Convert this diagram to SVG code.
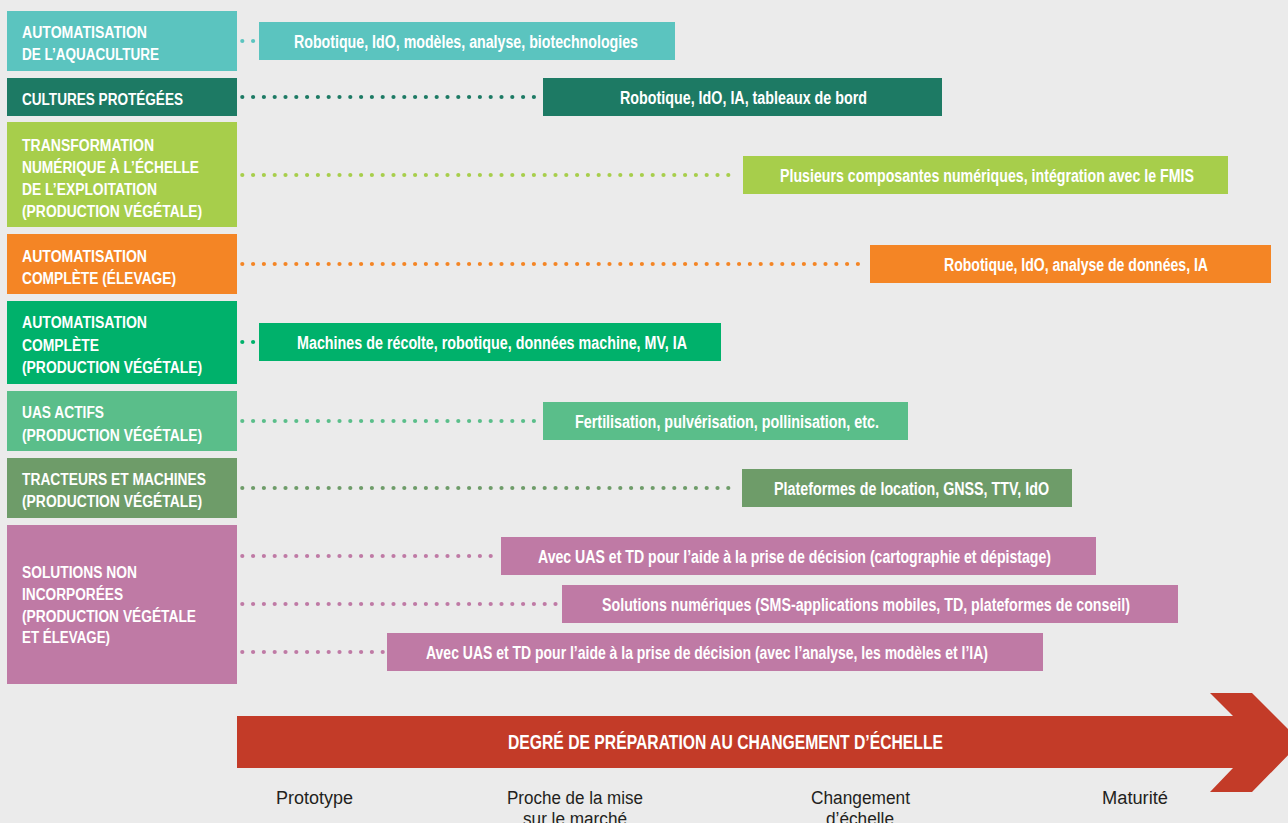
<svg xmlns="http://www.w3.org/2000/svg" width="1288" height="823" viewBox="0 0 1288 823">
<style>
.t{font-family:"Liberation Sans Narrow","Liberation Sans",Arial,sans-serif;font-weight:bold;fill:#fff;font-size:16px}
.l{font-family:"Liberation Sans Narrow","Liberation Sans",Arial,sans-serif;font-weight:bold;fill:#fff;font-size:18px}
.b{font-family:"Liberation Sans Narrow","Liberation Sans",Arial,sans-serif;fill:#231f20;font-size:18px}
.d{fill:none;stroke-width:4.2;stroke-linecap:round;stroke-dasharray:0 10.8}
.c1{fill:#5bc4bf}.s1{stroke:#5bc4bf}
.c2{fill:#1d7a64}.s2{stroke:#1d7a64}
.c3{fill:#a7ce4b}.s3{stroke:#a7ce4b}
.c4{fill:#f48525}.s4{stroke:#f48525}
.c5{fill:#00b16b}.s5{stroke:#00b16b}
.c6{fill:#5abe8a}.s6{stroke:#5abe8a}
.c7{fill:#6e9c69}.s7{stroke:#6e9c69}
.c8{fill:#bf7aa5}.s8{stroke:#bf7aa5}
</style>
<rect width="1288" height="823" fill="#ebebeb"/>

<g id="connectors">
<line class="d s1" x1="242.3" y1="41" x2="256" y2="41"/>
<line class="d s2" x1="242.3" y1="97" x2="538" y2="97"/>
<line class="d s3" x1="242.3" y1="175" x2="738" y2="175"/>
<line class="d s4" x1="242.3" y1="264" x2="866" y2="264"/>
<line class="d s5" x1="242.3" y1="342" x2="256" y2="342"/>
<line class="d s6" x1="242.3" y1="421" x2="538" y2="421"/>
<line class="d s7" x1="242.3" y1="488" x2="738" y2="488"/>
<line class="d s8" x1="242.3" y1="556" x2="497" y2="556"/>
<line class="d s8" x1="242.3" y1="604" x2="558" y2="604"/>
<line class="d s8" x1="242.3" y1="652" x2="383" y2="652"/>
</g>

<g id="cat-aquaculture">
<rect class="c1" x="7" y="11" width="230" height="60"/>
<text class="t" x="22" y="37.5" textLength="125" lengthAdjust="spacingAndGlyphs">AUTOMATISATION</text>
<text class="t" x="22" y="59.5" textLength="137" lengthAdjust="spacingAndGlyphs">DE L’AQUACULTURE</text>
</g>
<g id="lab-aquaculture">
<rect class="c1" x="259" y="22" width="416" height="38"/>
<text class="l" x="294" y="47.5" textLength="344" lengthAdjust="spacingAndGlyphs">Robotique, IdO, modèles, analyse, biotechnologies</text>
</g>

<g id="cat-cultures">
<rect class="c2" x="7" y="78" width="230" height="38"/>
<text class="t" x="22" y="105" textLength="161" lengthAdjust="spacingAndGlyphs">CULTURES PROTÉGÉES</text>
</g>
<g id="lab-cultures">
<rect class="c2" x="543" y="78" width="399" height="38"/>
<text class="l" x="620" y="103.5" textLength="247" lengthAdjust="spacingAndGlyphs">Robotique, IdO, IA, tableaux de bord</text>
</g>

<g id="cat-transformation">
<rect class="c3" x="7" y="122" width="230" height="105"/>
<text class="t" x="22" y="151" textLength="132" lengthAdjust="spacingAndGlyphs">TRANSFORMATION</text>
<text class="t" x="22" y="173" textLength="177" lengthAdjust="spacingAndGlyphs">NUMÉRIQUE À L’ÉCHELLE</text>
<text class="t" x="22" y="195" textLength="135" lengthAdjust="spacingAndGlyphs">DE L’EXPLOITATION</text>
<text class="t" x="22" y="217" textLength="180" lengthAdjust="spacingAndGlyphs">(PRODUCTION VÉGÉTALE)</text>
</g>
<g id="lab-transformation">
<rect class="c3" x="743" y="156" width="485" height="38"/>
<text class="l" x="780" y="181.5" textLength="414" lengthAdjust="spacingAndGlyphs">Plusieurs composantes numériques, intégration avec le FMIS</text>
</g>

<g id="cat-elevage">
<rect class="c4" x="7" y="234" width="230" height="60"/>
<text class="t" x="22" y="262" textLength="125" lengthAdjust="spacingAndGlyphs">AUTOMATISATION</text>
<text class="t" x="22" y="284" textLength="154" lengthAdjust="spacingAndGlyphs">COMPLÈTE (ÉLEVAGE)</text>
</g>
<g id="lab-elevage">
<rect class="c4" x="870" y="245" width="401" height="38"/>
<text class="l" x="944" y="270.5" textLength="264" lengthAdjust="spacingAndGlyphs">Robotique, IdO, analyse de données, IA</text>
</g>

<g id="cat-complete">
<rect class="c5" x="7" y="301" width="230" height="83"/>
<text class="t" x="22" y="328" textLength="125" lengthAdjust="spacingAndGlyphs">AUTOMATISATION</text>
<text class="t" x="22" y="350.5" textLength="77" lengthAdjust="spacingAndGlyphs">COMPLÈTE</text>
<text class="t" x="22" y="373" textLength="180" lengthAdjust="spacingAndGlyphs">(PRODUCTION VÉGÉTALE)</text>
</g>
<g id="lab-complete">
<rect class="c5" x="259" y="323" width="462" height="38"/>
<text class="l" x="297" y="348.5" textLength="390" lengthAdjust="spacingAndGlyphs">Machines de récolte, robotique, données machine, MV, IA</text>
</g>

<g id="cat-uas">
<rect class="c6" x="7" y="391" width="230" height="60"/>
<text class="t" x="22" y="418" textLength="82" lengthAdjust="spacingAndGlyphs">UAS ACTIFS</text>
<text class="t" x="22" y="441" textLength="180" lengthAdjust="spacingAndGlyphs">(PRODUCTION VÉGÉTALE)</text>
</g>
<g id="lab-uas">
<rect class="c6" x="543" y="402" width="365" height="38"/>
<text class="l" x="575" y="427.5" textLength="304" lengthAdjust="spacingAndGlyphs">Fertilisation, pulvérisation, pollinisation, etc.</text>
</g>

<g id="cat-tracteurs">
<rect class="c7" x="7" y="458" width="230" height="60"/>
<text class="t" x="22" y="485" textLength="184" lengthAdjust="spacingAndGlyphs">TRACTEURS ET MACHINES</text>
<text class="t" x="22" y="507" textLength="180" lengthAdjust="spacingAndGlyphs">(PRODUCTION VÉGÉTALE)</text>
</g>
<g id="lab-tracteurs">
<rect class="c7" x="742" y="469" width="330" height="38"/>
<text class="l" x="774" y="494.5" textLength="275" lengthAdjust="spacingAndGlyphs">Plateformes de location, GNSS, TTV, IdO</text>
</g>

<g id="cat-solutions">
<rect class="c8" x="7" y="525" width="230" height="159"/>
<text class="t" x="22" y="578" textLength="115" lengthAdjust="spacingAndGlyphs">SOLUTIONS NON</text>
<text class="t" x="22" y="600" textLength="101" lengthAdjust="spacingAndGlyphs">INCORPORÉES</text>
<text class="t" x="22" y="622" textLength="174" lengthAdjust="spacingAndGlyphs">(PRODUCTION VÉGÉTALE</text>
<text class="t" x="22" y="643" textLength="88" lengthAdjust="spacingAndGlyphs">ET ÉLEVAGE)</text>
</g>
<g id="lab-solutions-a">
<rect class="c8" x="501" y="537" width="595" height="38"/>
<text class="l" x="538" y="562.5" textLength="513" lengthAdjust="spacingAndGlyphs">Avec UAS et TD pour l’aide à la prise de décision (cartographie et dépistage)</text>
</g>
<g id="lab-solutions-b">
<rect class="c8" x="562" y="585" width="616" height="38"/>
<text class="l" x="602" y="610.5" textLength="528" lengthAdjust="spacingAndGlyphs">Solutions numériques (SMS-applications mobiles, TD, plateformes de conseil)</text>
</g>
<g id="lab-solutions-c">
<rect class="c8" x="387" y="633" width="656" height="38"/>
<text class="l" x="426" y="658.5" textLength="562" lengthAdjust="spacingAndGlyphs">Avec UAS et TD pour l’aide à la prise de décision (avec l’analyse, les modèles et l’IA)</text>
</g>

<g id="axis">
<polygon fill="#c33b28" points="237,716 1233,716 1210,693 1252,693 1301,742 1252,792 1210,792 1233,768 237,768"/>
<text x="508" y="748.5" font-family="Liberation Sans Narrow, Liberation Sans, Arial, sans-serif" font-weight="bold" font-size="20" fill="#fff" textLength="435" lengthAdjust="spacingAndGlyphs">DEGRÉ DE PRÉPARATION AU CHANGEMENT D’ÉCHELLE</text>
<text class="b" x="276" y="804" textLength="77" lengthAdjust="spacingAndGlyphs">Prototype</text>
<text class="b" x="507" y="804" textLength="136" lengthAdjust="spacingAndGlyphs">Proche de la mise</text>
<text class="b" x="575" y="825" text-anchor="middle" textLength="104" lengthAdjust="spacingAndGlyphs">sur le marché</text>
<text class="b" x="811" y="804" textLength="99" lengthAdjust="spacingAndGlyphs">Changement</text>
<text class="b" x="860" y="825" text-anchor="middle" textLength="68" lengthAdjust="spacingAndGlyphs">d’échelle</text>
<text class="b" x="1102" y="804" textLength="66" lengthAdjust="spacingAndGlyphs">Maturité</text>
</g>
</svg>
